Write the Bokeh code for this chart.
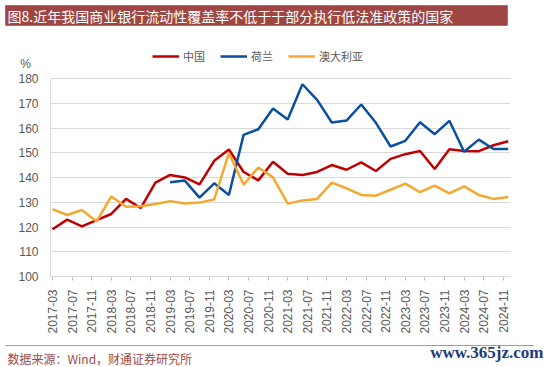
import math
from bokeh.plotting import figure
from bokeh.models import (Range1d, FixedTicker, Legend, LegendItem, LinearAxis,
                          ColumnDataSource)
from bokeh.core.properties import value
from bokeh.embed import file_html
from bokeh.resources import INLINE

TITLE = "图8.近年我国商业银行流动性覆盖率不低于于部分执行低法准政策的国家"
SOURCE = "数据来源：Wind，财通证券研究所"
WATERMARK = "www.365jz.com"
UNIT = "%"
NAN = float("nan")

QUARTERS = [
    "2017-03", "2017-06", "2017-09", "2017-12",
    "2018-03", "2018-06", "2018-09", "2018-12",
    "2019-03", "2019-06", "2019-09", "2019-12",
    "2020-03", "2020-06", "2020-09", "2020-12",
    "2021-03", "2021-06", "2021-09", "2021-12",
    "2022-03", "2022-06", "2022-09", "2022-12",
    "2023-03", "2023-06", "2023-09", "2023-12",
    "2024-03", "2024-06", "2024-09", "2024-12",
]

CHINA = [119.1, 123.0, 120.3, 122.8, 125.3, 131.4, 127.7, 138.0,
         141.1, 140.1, 137.3, 146.8, 151.4, 142.3, 138.9, 146.4,
         141.6, 141.1, 142.3, 145.1, 143.2, 146.2, 142.7, 147.6,
         149.5, 150.8, 143.5, 151.5, 150.8, 150.7, 153.1, 154.7]

NETHERLANDS = [NAN, NAN, NAN, NAN, NAN, NAN, NAN, NAN,
               138.1, 138.8, 131.9, 137.7, 133.0, 157.3, 159.6, 168.0,
               163.5, 177.8, 171.5, 162.3, 163.1, 169.6, 162.2, 152.6,
               154.9, 162.4, 157.6, 163.0, 150.5, 155.4, 151.6, 151.6]

AUSTRALIA = [127.3, 124.9, 126.9, 122.3, 132.4, 128.2, 128.4, 129.3,
             130.5, 129.5, 129.9, 131.2, 149.9, 137.2, 144.1, 140.1,
             129.5, 130.8, 131.4, 138.0, 135.7, 133.0, 132.7, 135.1,
             137.6, 134.1, 136.8, 133.6, 136.5, 133.0, 131.4, 132.2]

SERIES_NAMES = ["中国", "荷兰", "澳大利亚"]
SERIES_COLORS = ["#C00000", "#0A4FA0", "#F5A82F"]

TICK_LABELS = [
    "2017-03", "2017-07", "2017-11", "2018-03", "2018-07", "2018-11",
    "2019-03", "2019-07", "2019-11", "2020-03", "2020-07", "2020-11",
    "2021-03", "2021-07", "2021-11", "2022-03", "2022-07", "2022-11",
    "2023-03", "2023-07", "2023-11", "2024-03", "2024-07", "2024-11",
]
Y_TICKS = [100, 110, 120, 130, 140, 150, 160, 170, 180]
Y_MIN, Y_MAX = 100, 180


def month_index(s):
    y, m = s.split("-")
    return (int(y) - 2017) * 12 + int(m) - 3


# ---- layout geometry (canvas pixels; Bokeh's page has no body margin) ----
W, H = 550, 367
PLOT_L, PLOT_R = 50, 510          # plotting area left/right
PLOT_T, PLOT_B = 78.3, 276        # y of 180 and 100
X_LO, X_HI = -0.41, 93.47         # month span of plotting area
px_per_month = (PLOT_R - PLOT_L) / (X_HI - X_LO)
px_per_unit = (PLOT_B - PLOT_T) / (Y_MAX - Y_MIN)
x_start = X_LO - PLOT_L / px_per_month
x_end = X_HI + (W - PLOT_R) / px_per_month
y_start = Y_MIN - (H - PLOT_B) / px_per_unit
y_end = Y_MAX + PLOT_T / px_per_unit

GRAY = "#595959"
GRID = "#D9D9D9"
CJK = "Noto Sans CJK SC"

p = figure(width=W, height=H, x_range=Range1d(x_start, x_end), y_range=Range1d(y_start, y_end),
           x_axis_location=None, y_axis_location=None,
           output_backend="svg", toolbar_location=None,
           min_border=0, min_border_left=0, min_border_right=0,
           min_border_top=0, min_border_bottom=0)
p.extra_x_ranges = {"px": Range1d(0, W)}
p.extra_y_ranges = {"px": Range1d(H, 0)}
p.outline_line_color = None
p.background_fill_color = "white"
p.border_fill_color = "white"
p.grid.visible = False

# y axis: its inward ticks form the horizontal gridlines
yaxis = LinearAxis(fixed_location=X_LO, bounds=(Y_MIN, Y_MAX), ticker=FixedTicker(ticks=Y_TICKS),
                   major_tick_in=int(PLOT_R - PLOT_L), major_tick_out=0,
                   major_tick_line_color=GRID, major_tick_line_width=1,
                   minor_tick_line_color=None, axis_line_color=GRID,
                   major_label_text_font="Liberation Sans", major_label_text_font_size="12px",
                   major_label_text_color=GRAY, major_label_standoff=12, level="underlay")
p.add_layout(yaxis, "left")

tick_pos = [month_index(t) for t in TICK_LABELS]
xaxis = LinearAxis(fixed_location=Y_MIN, bounds=(X_LO, X_HI), ticker=FixedTicker(ticks=tick_pos),
                   major_label_overrides={m: t for m, t in zip(tick_pos, TICK_LABELS)},
                   major_label_orientation=math.pi / 2,
                   major_label_text_font="Liberation Sans", major_label_text_font_size="12px",
                   major_label_text_color=GRAY, major_label_standoff=9,
                   axis_line_color="#CFCFCF", major_tick_line_color="#BFBFBF",
                   major_tick_out=4, major_tick_in=0, minor_tick_line_color=None,
                   level="underlay")
p.add_layout(xaxis, "below")

# ---- data lines ----
src = ColumnDataSource(dict(
    x=[month_index(q) for q in QUARTERS],
    china=CHINA, nl=NETHERLANDS, au=AUSTRALIA,
))
renderers = []
for col, color in zip(["china", "nl", "au"], SERIES_COLORS):
    r = p.line("x", col, source=src, line_color=color, line_width=2.5)
    renderers.append(r)

legend = Legend(items=[LegendItem(label=n, renderers=[r]) for n, r in zip(SERIES_NAMES, renderers)],
                orientation="horizontal", location=(152, 303),
                glyph_width=27, glyph_height=14, label_height=14, label_standoff=4, spacing=15,
                padding=0, margin=0, border_line_color=None, background_fill_alpha=0,
                label_text_font=CJK, label_text_font_size="11px", label_text_color=GRAY)
p.add_layout(legend)

# ---- banner ----
p.quad(left=[5], right=[507], top=[5], bottom=[25], fill_color="#9E4643",
       line_color="#B86A66", line_width=1, x_range_name="px", y_range_name="px")
p.text(x=[7], y=[15], text=[TITLE], text_font=value(CJK), text_font_size=value("14px"),
       text_color="white", text_baseline="middle", text_align="left",
       x_range_name="px", y_range_name="px")

# ---- unit ----
p.text(x=[25], y=[63], text=[UNIT], text_font=value("Liberation Sans"), text_font_size=value("12px"),
       text_color=GRAY, text_baseline="middle", text_align="center",
       x_range_name="px", y_range_name="px")

# ---- footer ----
p.segment(x0=[5], y0=[345], x1=[533], y1=[345], line_color="#CC8A86", line_width=1.2,
          x_range_name="px", y_range_name="px")
p.text(x=[7], y=[358], text=[SOURCE], text_font=value(CJK), text_font_size=value("12px"),
       text_color="#9E4A46", text_baseline="middle", text_align="left",
       x_range_name="px", y_range_name="px")
p.text(x=[543], y=[352], text=[WATERMARK], text_font=value("Liberation Serif"),
       text_font_style="bold", text_font_size=value("17px"),
       text_color="#1E3C78", text_baseline="middle", text_align="right",
       x_range_name="px", y_range_name="px")

open("out.html", "w").write(file_html(p, INLINE))
